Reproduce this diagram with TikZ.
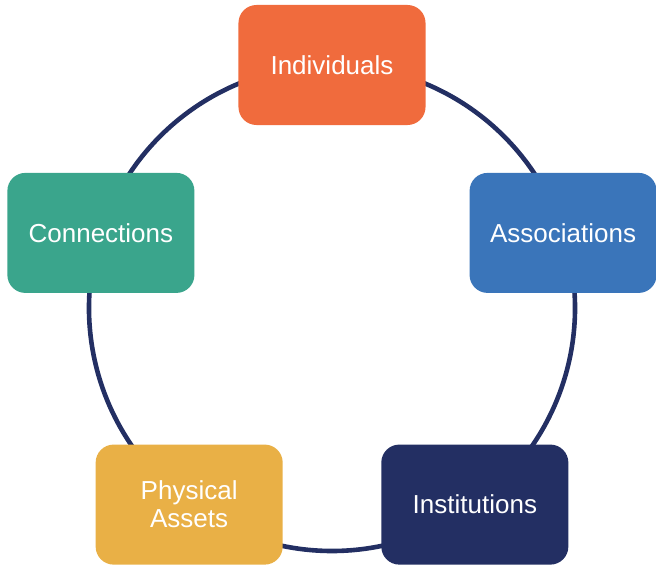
\documentclass[tikz,border=0pt]{standalone}
\usepackage{fontspec}
\setmainfont{Liberation Sans}
\usepackage{xcolor}
\usetikzlibrary{
    backgrounds,
    positioning
}
\definecolor{indorange}{HTML}{F06B3D}
\definecolor{assblue}{HTML}{3A75BA}
\definecolor{instnavy}{HTML}{232F63}
\definecolor{physyellow}{HTML}{E9B046}
\definecolor{connteal}{HTML}{3AA58C}

\begin{document}
\begin{tikzpicture}[
        x=0.025cm, y=0.025cm,
        box/.style={rectangle, rounded corners=0.45cm, minimum width=4.675cm,
            minimum height=3cm, text=white, align=center,
            font=\fontsize{18.5}{20}\selectfont},
        ring/.style={draw=instnavy, line width=0.115cm}
    ]
                        \useasboundingbox (-332, -258) rectangle (324, 308);

                        \node[box, fill=indorange] (ind) at (90:243) {Individuals};
                        \node[box, fill=assblue] (ass) at (18:243) {Associations};
                        \node[box, fill=instnavy] (inst) at (-54:243) {Institutions};
                        \node[box, fill=physyellow] (phys) at (-126:243) {Physical\\Assets};
                        \node[box, fill=connteal] (conn) at (162:243) {Connections};

                        \begin{scope}[on background layer]
                            \draw[ring] (ind.center) arc[start angle=90, end angle=18, radius=243];
                            \draw[ring] (ass.center) arc[start angle=18, end angle=-54, radius=243];
                            \draw[ring] (inst.center) arc[start angle=-54, end angle=-126, radius=243];
                            \draw[ring] (phys.center) arc[start angle=-126, end angle=-198, radius=243];
                            \draw[ring] (conn.center) arc[start angle=162, end angle=90, radius=243];
                        \end{scope}
                    \end{tikzpicture}
\end{document}
